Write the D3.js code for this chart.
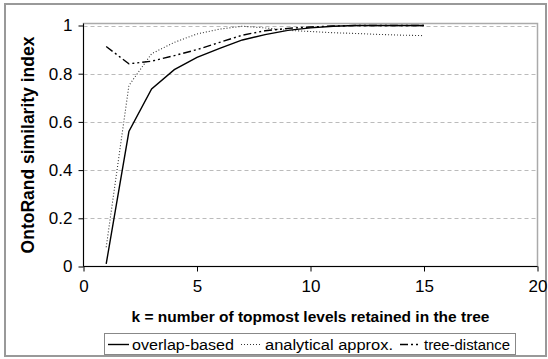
<!DOCTYPE html>
<html>
<head>
<meta charset="utf-8">
<script src="https://cdn.jsdelivr.net/npm/d3@7"></script>
<style>
  html, body { margin: 0; padding: 0; background: #fff; }
  svg { display: block; font-family: "Liberation Sans", Arial, sans-serif; }
</style>
</head>
<body>
<svg id="chart" width="548" height="359"></svg>
<script>
// k = number of topmost levels retained
const kValues = [1, 2, 3, 4, 5, 6, 7, 8, 9, 10, 11, 12, 13, 14, 15];
const overlapBased = [0.011, 0.56, 0.737, 0.817, 0.868, 0.905, 0.94, 0.962, 0.98, 0.99, 0.997, 1.0, 1.0, 1.0, 1.0];
const analyticalApprox = [0.08, 0.751, 0.883, 0.93, 0.965, 0.985, 0.997, 0.99, 0.98, 0.975, 0.97, 0.967, 0.963, 0.96, 0.958];
const treeDistance = [0.913, 0.841, 0.852, 0.875, 0.9, 0.93, 0.96, 0.978, 0.988, 0.994, 0.998, 1.0, 1.0, 1.0, 1.0];
const xTicks = [0, 5, 10, 15, 20];
const yTicks = [0, 0.2, 0.4, 0.6, 0.8, 1];
const seriesNames = ["overlap-based", "analytical approx.", "tree-distance"];

const svg = d3.select("#chart");
const plotL = 83.5, plotR = 537.5, plotT = 25.5, plotB = 266.5;

const x = d3.scaleLinear().domain([0, 20]).range([plotL, plotR]);
const y = d3.scaleLinear().domain([0, 1]).range([plotB, plotT]);

// Outer frame
svg.append("rect").attr("x", 5).attr("y", 4).attr("width", 541).attr("height", 352)
  .attr("fill", "#fff").attr("stroke", "#999").attr("stroke-width", 2);

// Plot area frame
svg.append("rect").attr("x", plotL).attr("y", plotT - 2).attr("width", plotR - plotL).attr("height", plotB - plotT + 2)
  .attr("fill", "none").attr("stroke", "#aaa").attr("stroke-width", 1.5);

// Gridlines
svg.append("g").selectAll("line").data(yTicks.filter(d => d > 0)).join("line")
  .attr("x1", plotL).attr("x2", plotR)
  .attr("y1", d => Math.round(y(d)) + 0.5).attr("y2", d => Math.round(y(d)) + 0.5)
  .attr("stroke", "#bbb").attr("stroke-width", 1).attr("stroke-dasharray", "4,3");

// Axes
const yAxis = d3.axisLeft(y).tickValues(yTicks).tickSize(5).tickPadding(6)
  .tickFormat(d => d === 0 ? "0" : d === 1 ? "1" : d3.format(".1f")(d));
const gy = svg.append("g").attr("transform", `translate(${plotL},0)`).call(yAxis);
gy.selectAll("text").attr("font-size", 17).attr("fill", "#000");
gy.selectAll("path, line").attr("stroke", "#000");
gy.select(".domain").attr("d", `M0,${plotT - 2}V${plotB}`);

const xAxis = d3.axisBottom(x).tickValues(xTicks).tickSize(5).tickPadding(8);
const gx = svg.append("g").attr("transform", `translate(0,${plotB})`).call(xAxis);
gx.selectAll("text").attr("font-size", 17).attr("fill", "#000");
gx.selectAll("path, line").attr("stroke", "#000");
gx.select(".domain").attr("d", `M${plotL},0H${plotR}`);

// Series lines
const series = [
  { name: seriesNames[0], values: overlapBased, dash: null, width: 1.4, color: "#000" },
  { name: seriesNames[1], values: analyticalApprox, dash: "1,2", width: 1.1, color: "#333" },
  { name: seriesNames[2], values: treeDistance, dash: "8,3,2,3,2,3", width: 1.4, color: "#000" }
];
const line = d3.line().x((d, i) => x(kValues[i])).y(d => y(d));
series.forEach(s => {
  svg.append("path").datum(s.values).attr("d", line)
    .attr("fill", "none").attr("stroke", s.color).attr("stroke-width", s.width)
    .attr("stroke-dasharray", s.dash);
});

// Axis titles
svg.append("text").attr("transform", `translate(33.5,${(plotT + plotB) / 2 - 1}) rotate(-90)`)
  .attr("text-anchor", "middle").attr("font-size", 17.5).attr("font-weight", "bold")
  .text("OntoRand similarity index");
svg.append("text").attr("x", (plotL + plotR) / 2).attr("y", 322)
  .attr("text-anchor", "middle").attr("font-size", 15.5).attr("font-weight", "bold")
  .text("k = number of topmost levels retained in the tree");

// Legend
const lg = svg.append("g");
lg.append("rect").attr("x", 104.5).attr("y", 333.5).attr("width", 411).attr("height", 21)
  .attr("fill", "#fff").attr("stroke", "#888").attr("stroke-width", 1);
const legendX = [108, 241, 400];
series.forEach((s, i) => {
  lg.append("line").attr("x1", legendX[i]).attr("x2", legendX[i] + 21)
    .attr("y1", 344.5).attr("y2", 344.5)
    .attr("stroke", s.color).attr("stroke-width", s.width).attr("stroke-dasharray", s.dash);
  lg.append("text").attr("x", legendX[i] + 24).attr("y", 350)
    .attr("font-size", 15.5).attr("textLength", i === 0 ? 102 : i === 1 ? 128 : 86)
    .attr("lengthAdjust", "spacingAndGlyphs").text(s.name);
});
</script>
</body>
</html>
